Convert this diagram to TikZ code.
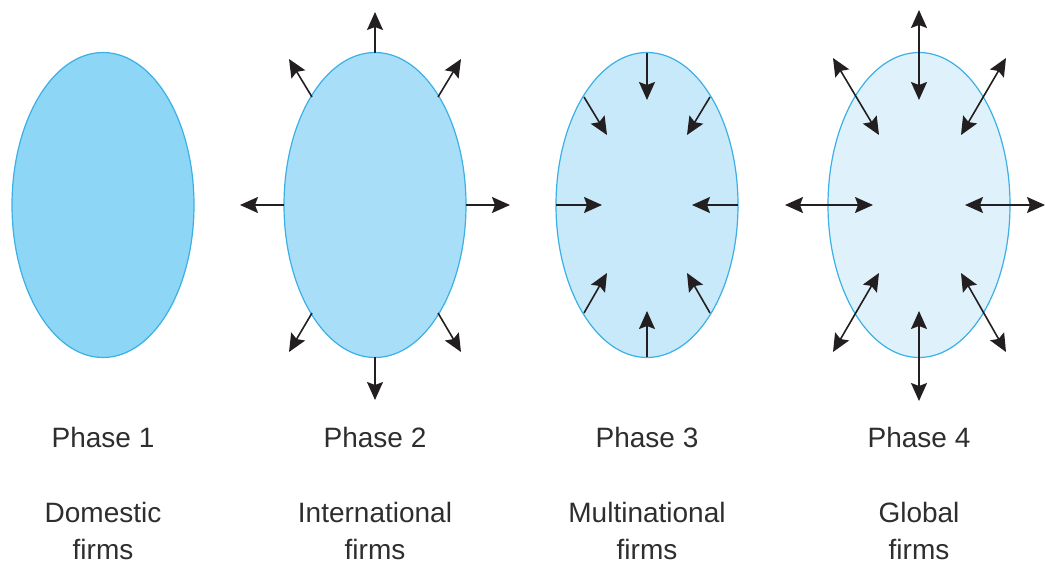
\documentclass[tikz,border=0pt]{standalone}
\usepackage{fontspec}
\setmainfont{Liberation Sans}
\usetikzlibrary{shapes.geometric,arrows.meta}
\definecolor{edgeblue}{HTML}{3BB0E6}
\definecolor{fillA}{HTML}{8DD6F5}
\definecolor{fillB}{HTML}{A9DEF8}
\definecolor{fillC}{HTML}{C7E9FA}
\definecolor{fillD}{HTML}{DFF2FC}
\definecolor{txt}{HTML}{2E2E2E}
\definecolor{arr}{HTML}{231F20}
\tikzset{
  oval/.style={ellipse, draw=edgeblue, line width=1.2pt, minimum width=182pt, minimum height=305pt, inner sep=0pt},
  head/.tip={Stealth[length=18pt,width=16pt,inset=3pt]},
  outarr/.style={draw=arr, line width=1.6pt, -head},
  dblarr/.style={draw=arr, line width=1.6pt, head-head},
  label/.style={text=txt, font=\fontsize{28}{37}\selectfont, align=center, inner sep=0pt},
}
\begin{document}
\begin{tikzpicture}[x=1pt,y=-1pt]
\useasboundingbox (0,0) rectangle (1045,565);
% ellipses
\node[oval, fill=fillA] (e1) at (103,205) {};
\node[oval, fill=fillB] (e2) at (375,205) {};
\node[oval, fill=fillC] (e3) at (647,205) {};
\node[oval, fill=fillD] (e4) at (919,205) {};
% phase 2 outward
\coordinate (b2n) at (375,53);  \coordinate (t2n) at (375,12);
\coordinate (b2nw) at (312,97); \coordinate (t2nw) at (289,59);
\coordinate (b2ne) at (438,97); \coordinate (t2ne) at (461,59);
\coordinate (b2w) at (284,205); \coordinate (t2w) at (240,205);
\coordinate (b2e) at (466,205); \coordinate (t2e) at (510,205);
\coordinate (b2s) at (375,357); \coordinate (t2s) at (375,400);
\coordinate (b2sw) at (312,313); \coordinate (t2sw) at (289,352);
\coordinate (b2se) at (438,313); \coordinate (t2se) at (461,352);
\foreach \d in {n,nw,ne,w,e,s,sw,se} \draw[outarr] (b2\d) -- (t2\d);
% phase 3 inward
\coordinate (b3n) at (647,53);  \coordinate (t3n) at (647,100);
\coordinate (b3nw) at (584,97); \coordinate (t3nw) at (607,135);
\coordinate (b3ne) at (710,97); \coordinate (t3ne) at (687,135);
\coordinate (b3w) at (556,205); \coordinate (t3w) at (602,205);
\coordinate (b3e) at (738,205); \coordinate (t3e) at (692,205);
\coordinate (b3s) at (647,357); \coordinate (t3s) at (647,311);
\coordinate (b3sw) at (584,313); \coordinate (t3sw) at (607,273);
\coordinate (b3se) at (710,313); \coordinate (t3se) at (687,273);
\foreach \d in {n,nw,ne,w,e,s,sw,se} \draw[outarr] (b3\d) -- (t3\d);
% phase 4 both ways
\coordinate (a4n) at (919,10);  \coordinate (c4n) at (919,100);
\coordinate (a4nw) at (833,58); \coordinate (c4nw) at (879,135);
\coordinate (a4ne) at (1006,58); \coordinate (c4ne) at (961,135);
\coordinate (a4w) at (785,205); \coordinate (c4w) at (873,205);
\coordinate (a4e) at (1045,205); \coordinate (c4e) at (965,205);
\coordinate (a4s) at (919,401); \coordinate (c4s) at (919,311);
\coordinate (a4sw) at (833,352); \coordinate (c4sw) at (879,273);
\coordinate (a4se) at (1006,352); \coordinate (c4se) at (961,273);
\foreach \d in {n,nw,ne,w,e,s,sw,se} \draw[dblarr] (a4\d) -- (c4\d);
% labels
\node[label] (p1) at (103,437) {Phase 1};
\node[label] (p2) at (375,437) {Phase 2};
\node[label] (p3) at (647,437) {Phase 3};
\node[label] (p4) at (919,437) {Phase 4};
\node[label] (d1) at (103,531) {Domestic\\firms};
\node[label] (d2) at (375,531) {International\\firms};
\node[label] (d3) at (647,531) {Multinational\\firms};
\node[label] (d4) at (919,531) {Global\\firms};
\end{tikzpicture}
\end{document}
